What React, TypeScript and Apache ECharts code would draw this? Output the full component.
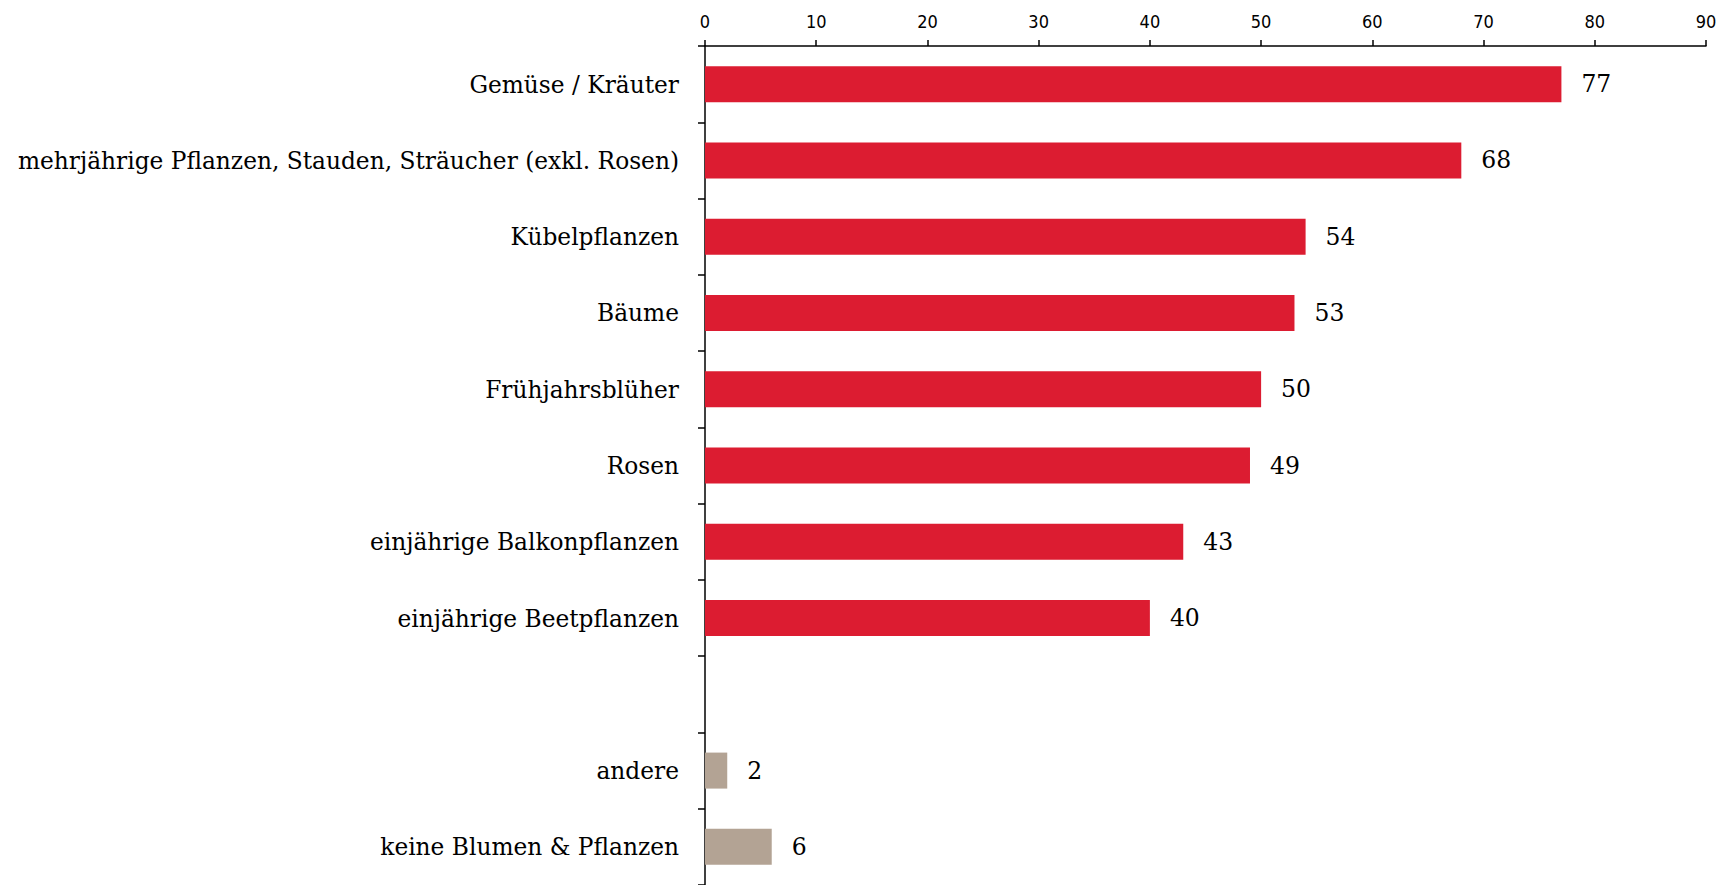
import React, { useEffect, useRef } from "react";
import * as echarts from "echarts";

const categories = [
  "Gemüse / Kräuter",
  "mehrjährige Pflanzen, Stauden, Sträucher (exkl. Rosen)",
  "Kübelpflanzen",
  "Bäume",
  "Frühjahrsblüher",
  "Rosen",
  "einjährige Balkonpflanzen",
  "einjährige Beetpflanzen",
  "",
  "andere",
  "keine Blumen & Pflanzen",
];
const values: (number | null)[] = [77, 68, 54, 53, 50, 49, 43, 40, null, 2, 6];
const groups = ["main", "main", "main", "main", "main", "main", "main", "main", "", "other", "other"];
const xTicks = { min: 0, max: 90, interval: 10 };

const RED = "#DC1C31";
const GREY = "#B3A394";

export default function App() {
  const ref = useRef<HTMLDivElement>(null);
  useEffect(() => {
    if (!ref.current) return;
    const chart = echarts.init(ref.current, null, { renderer: "svg" });
    const serif = "'DejaVu Serif', serif";
    chart.setOption({
      animation: false,
      backgroundColor: "#fff",
      grid: { left: 705, right: 22, top: 46, bottom: 0, containLabel: false },
      xAxis: {
        type: "value",
        position: "top",
        min: xTicks.min,
        max: xTicks.max,
        interval: xTicks.interval,
        axisLine: { show: true, lineStyle: { color: "#000", width: 1.5 } },
        axisTick: { show: true, inside: false, length: 6, lineStyle: { color: "#000", width: 1.5 } },
        splitLine: { show: false },
        axisLabel: {
          color: "#000",
          fontSize: 18,
          fontFamily: "'Liberation Sans Narrow', 'DejaVu Sans Condensed', sans-serif",
          margin: 16,
        },
      },
      yAxis: {
        type: "category",
        inverse: true,
        data: categories,
        axisLine: { show: true, lineStyle: { color: "#000", width: 1.5 } },
        axisTick: { show: true, length: 7, lineStyle: { color: "#000", width: 1.5 } },
        axisLabel: { color: "#000", fontSize: 23.3, fontFamily: serif, margin: 26 },
      },
      series: [
        {
          type: "bar",
          barWidth: 36,
          data: values.map((v, i) =>
            v === null
              ? "-"
              : { value: v, itemStyle: { color: groups[i] === "main" ? RED : GREY } }
          ),
          label: {
            show: true,
            position: "right",
            distance: 20,
            color: "#000",
            fontSize: 23.5,
            fontFamily: serif,
          },
        },
      ],
    });
    return () => chart.dispose();
  }, []);
  return <div ref={ref} style={{ width: 1728, height: 885, position: "absolute", left: 0, top: 0 }} />;
}
